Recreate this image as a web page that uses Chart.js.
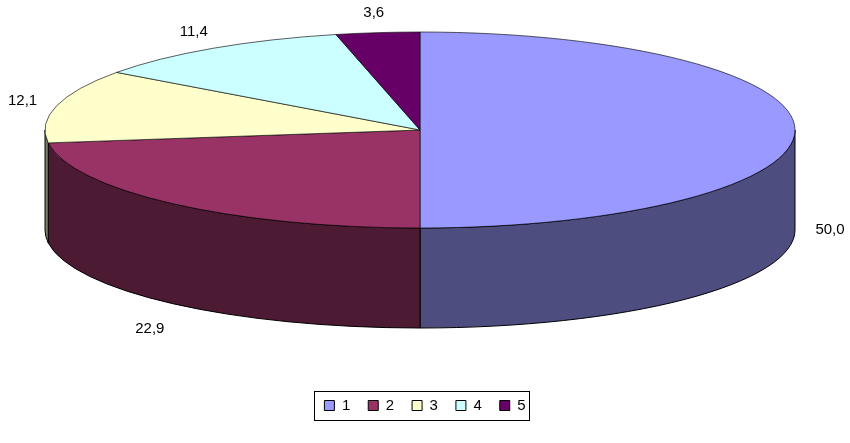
<!DOCTYPE html>
<html><head><meta charset="utf-8">
<script src="https://cdn.jsdelivr.net/npm/chart.js@4"></script>
<style>html,body{margin:0;background:#fff}#w{width:850px;height:443px}</style>
</head><body><div id="w"><canvas id="c"></canvas></div>
<script>
const categories = ['1','2','3','4','5'];
const values = [50.0, 22.9, 12.1, 11.4, 3.6];
const valueLabels = ['50,0','22,9','12,1','11,4','3,6'];
const topColors = ['#9999FF','#993366','#FFFFCC','#CCFFFF','#660066'];
const sideColors = ['#4D4D80','#4D1A33','#80806A','#6A8080','#330033'];

const CX = 420, CY = 130, RX = 375, RY = 98, DEPTH = 100;

const pie3d = {
  id: 'pie3d',
  beforeDatasetsDraw(chart) {
    const ctx = chart.ctx;
    const arcs = chart.getDatasetMeta(0).data;
    ctx.save();
    ctx.lineWidth = 1; ctx.strokeStyle = '#000';
    arcs.forEach((el, i) => {
      const a1 = el.startAngle, a2 = el.endAngle;
      [-2*Math.PI, 0, 2*Math.PI].forEach(off => {
        const s = Math.max(a1, off), e = Math.min(a2, off + Math.PI);
        if (e > s) {
          ctx.beginPath();
          ctx.ellipse(CX, CY, RX, RY, 0, s, e, false);
          ctx.ellipse(CX, CY + DEPTH, RX, RY, 0, e, s, true);
          ctx.closePath();
          ctx.fillStyle = sideColors[i];
          ctx.fill(); ctx.stroke();
        }
      });
    });
    const el0 = arcs[0];
    ctx.translate(CX, CY);
    ctx.scale(1, RY / RX);
    ctx.translate(-el0.x, -el0.y);
  },
  afterDatasetsDraw(chart) {
    const ctx = chart.ctx;
    ctx.restore();
    const arcs = chart.getDatasetMeta(0).data;
    ctx.save();
    ctx.font = '15px Arial, "Liberation Sans"';
    ctx.fillStyle = '#000';
    ctx.textAlign = 'center'; ctx.textBaseline = 'middle';
    arcs.forEach((el, i) => {
      const m = (el.startAngle + el.endAngle) / 2;
      const c = Math.cos(m), s = Math.sin(m);
      const x = CX + (RX + 35) * c;
      const y = CY + 118 * s + (s >= -0.01 ? DEPTH : 0) + (s > 0.3 ? 10 : 0);
      ctx.fillText(valueLabels[i], x, y);
    });
    const lg = chart.legend;
    if (lg && lg.legendHitBoxes.length) {
      const hb = lg.legendHitBoxes;
      const l = Math.min(...hb.map(b => b.left)) - 10;
      const r = Math.max(...hb.map(b => b.left + b.width)) + 4;
      const t = hb[0].top - 7, h = hb[0].height + 14;
      ctx.strokeStyle = '#000'; ctx.lineWidth = 1;
      ctx.strokeRect(Math.round(l) + 0.5, Math.round(t) + 0.5, Math.round(r - l), Math.round(h));
    }
    ctx.restore();
  }
};

new Chart(document.getElementById('c'), {
  type: 'pie',
  data: { labels: categories, datasets: [{ data: values, backgroundColor: topColors, borderColor: '#000', borderWidth: 1, radius: RX }] },
  options: {
    responsive: true, maintainAspectRatio: false, animation: false,
    layout: { padding: { bottom: 20 } },
    plugins: {
      tooltip: { enabled: false },
      legend: { position: 'bottom', labels: { boxWidth: 10, boxHeight: 10, padding: 18, color: '#000', font: { size: 15, family: 'Arial, "Liberation Sans"' } } }
    }
  },
  plugins: [pie3d]
});
</script></body></html>
